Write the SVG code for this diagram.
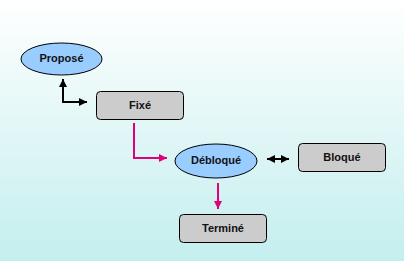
<svg xmlns="http://www.w3.org/2000/svg" width="404" height="261" viewBox="0 0 404 261">
<defs>
<linearGradient id="bg" x1="0" y1="0" x2="0" y2="1">
<stop offset="0" stop-color="#ffffff"/>
<stop offset="1" stop-color="#c4eeee"/>
</linearGradient>
<marker id="ab" viewBox="0 0 10 10" refX="10" refY="5" markerWidth="4" markerHeight="4" orient="auto-start-reverse" markerUnits="strokeWidth">
<path d="M0,0 L10,5 L0,10 z" fill="#000"/>
</marker>
<marker id="ap" viewBox="0 0 10 10" refX="10" refY="5" markerWidth="4" markerHeight="4" orient="auto" markerUnits="strokeWidth">
<path d="M0,0 L10,5 L0,10 z" fill="#e0007a"/>
</marker>
</defs>
<style>
.ell{fill:#99ccff;stroke:#000;stroke-width:1}
.box{fill:#cccccc;stroke:#000;stroke-width:1}
.t{font-family:"Liberation Sans",Arial,sans-serif;font-weight:bold;font-size:11px;fill:#111;text-anchor:middle;dominant-baseline:central}
.cb{fill:none;stroke:#000;stroke-width:2}
.cp{fill:none;stroke:#e0007a;stroke-width:2}
</style>
<rect width="404" height="261" fill="url(#bg)"/>
<g id="connectors">
<path class="cb" d="M63,79 V102 H87" marker-start="url(#ab)" marker-end="url(#ab)"/>
<path class="cp" d="M134,123 V158 H167" marker-end="url(#ap)"/>
<path class="cb" d="M267,159 H289" marker-start="url(#ab)" marker-end="url(#ab)"/>
<path class="cp" d="M218,183 V209" marker-end="url(#ap)"/>
</g>
<g id="propose"><ellipse class="ell" cx="61.5" cy="59" rx="40.5" ry="16"/><text class="t" x="61.5" y="58">Proposé</text></g>
<g id="fixe"><rect class="box" x="96.5" y="91.5" width="87" height="28" rx="4"/><text class="t" x="140" y="104.5">Fixé</text></g>
<g id="debloque"><ellipse class="ell" cx="216" cy="161" rx="41" ry="17"/><text class="t" x="216" y="160">Débloqué</text></g>
<g id="bloque"><rect class="box" x="298.5" y="143.5" width="87" height="28" rx="4"/><text class="t" x="342" y="156.5">Bloqué</text></g>
<g id="termine"><rect class="box" x="179.5" y="214.5" width="87" height="28" rx="4"/><text class="t" x="223" y="227.5">Terminé</text></g>
</svg>
